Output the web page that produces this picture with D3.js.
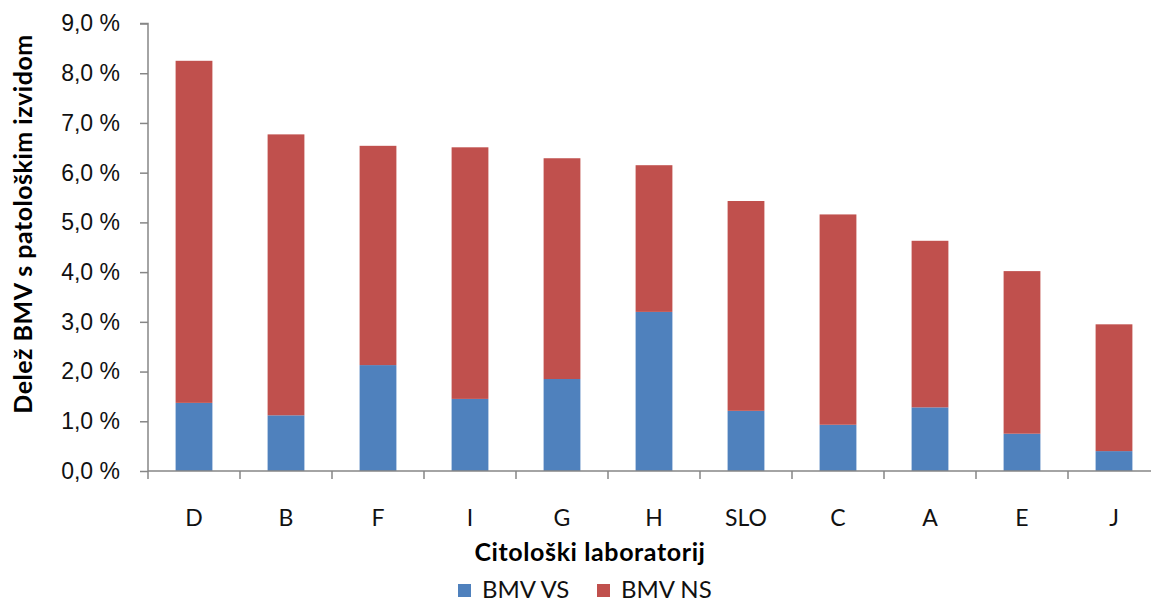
<!DOCTYPE html>
<html>
<head>
<meta charset="utf-8">
<script src="https://cdn.jsdelivr.net/npm/d3@7"></script>
<style>
  body { margin: 0; background: #fff; }
  svg { display: block; font-family: Lato, 'Open Sans', sans-serif; }
</style>
</head>
<body>
<svg id="chart"></svg>
<script>
var width = 1151;
var height = 605;

var labs = ['D', 'B', 'F', 'I', 'G', 'H', 'SLO', 'C', 'A', 'E', 'J'];
var bmvVS = [1.37, 1.12, 2.13, 1.45, 1.85, 3.20, 1.21, 0.93, 1.28, 0.75, 0.40];
var bmvNS = [6.88, 5.65, 4.41, 5.06, 4.44, 2.95, 4.22, 4.23, 3.35, 3.27, 2.55];
var yTicks = [0, 1, 2, 3, 4, 5, 6, 7, 8, 9];
var seriesNames = ['BMV VS', 'BMV NS'];
var colors = ['#4F81BD', '#C0504D'];

var plotLeft = 148, plotTop = 23.5, plotBottom = 471;

var svg = d3.select('#chart')
  .attr('width', width)
  .attr('height', height);

var xScale = d3.scaleBand()
  .domain(labs)
  .range([plotLeft, plotLeft + 11 * 92])
  .paddingInner(0.6)
  .paddingOuter(0.3);

var yScale = d3.scaleLinear()
  .domain([0, 9])
  .range([plotBottom, plotTop]);

var rows = labs.map(function(l, i) {
  return { lab: l, vs: bmvVS[i], ns: bmvNS[i] };
});

var stack = d3.stack().keys(['vs', 'ns'])(rows);

svg.selectAll('g.layer')
  .data(stack)
  .enter()
  .append('g')
  .attr('class', 'layer')
  .attr('fill', (d, i) => colors[i])
  .selectAll('rect')
  .data(d => d)
  .enter()
  .append('rect')
  .attr('x', d => xScale(d.data.lab))
  .attr('width', xScale.bandwidth())
  .attr('y', d => yScale(d[1]))
  .attr('height', d => yScale(d[0]) - yScale(d[1]));

// y axis
var yAxis = d3.axisLeft(yScale)
  .tickValues(yTicks)
  .tickSize(8)
  .tickPadding(20)
  .tickFormat(d => d3.format('.1f')(d).replace('.', ',') + ' %');

var gy = svg.append('g')
  .attr('transform', 'translate(' + plotLeft + ',0)')
  .call(yAxis);
gy.select('.domain').attr('stroke', '#868686').attr('stroke-width', 1.5)
  .attr('d', 'M-8,' + plotTop + 'H0V' + plotBottom);
gy.selectAll('.tick line').attr('stroke', '#868686').attr('stroke-width', 1.5);
gy.selectAll('.tick text')
  .attr('fill', '#111')
  .style('font-size', '23px');

// x axis
var step = xScale.step();
var bounds = labs.map(d => xScale(d) - (step - xScale.bandwidth()) / 2);
bounds.push(xScale.range()[1]);

var gx = svg.append('g');
gx.append('line')
  .attr('x1', plotLeft).attr('x2', xScale.range()[1])
  .attr('y1', plotBottom).attr('y2', plotBottom)
  .attr('stroke', '#868686').attr('stroke-width', 1.5);
gx.selectAll('line.tk')
  .data(bounds)
  .enter()
  .append('line')
  .attr('class', 'tk')
  .attr('x1', d => d).attr('x2', d => d)
  .attr('y1', plotBottom).attr('y2', plotBottom + 8)
  .attr('stroke', '#868686').attr('stroke-width', 1.5);
gx.selectAll('text')
  .data(labs)
  .enter()
  .append('text')
  .attr('x', d => xScale(d) + xScale.bandwidth() / 2)
  .attr('y', 526)
  .attr('text-anchor', 'middle')
  .attr('fill', '#111')
  .style('font-size', '23px')
  .text(d => d);

// titles
svg.append('text')
  .attr('x', 590)
  .attr('y', 561)
  .attr('text-anchor', 'middle')
  .style('font-size', '25px')
  .style('letter-spacing', '0.6px')
  .style('font-weight', 'bold')
  .text('Citološki laboratorij');

svg.append('text')
  .attr('transform', 'translate(32,' + 224 + ') rotate(-90)')
  .attr('text-anchor', 'middle')
  .style('font-size', '25px')
  .style('letter-spacing', '0.5px')
  .style('font-weight', 'bold')
  .text('Delež BMV s patološkim izvidom');

// legend
var legX = [458, 597];
var leg = svg.selectAll('g.leg')
  .data(seriesNames)
  .enter()
  .append('g')
  .attr('class', 'leg')
  .attr('transform', (d, i) => 'translate(' + legX[i] + ',584)');
leg.append('rect')
  .attr('width', 13).attr('height', 13)
  .attr('fill', (d, i) => colors[i]);
leg.append('text')
  .attr('x', 24)
  .attr('y', 14)
  .attr('fill', '#111')
  .style('font-size', '24px')
  .text(d => d);
</script>
</body>
</html>
